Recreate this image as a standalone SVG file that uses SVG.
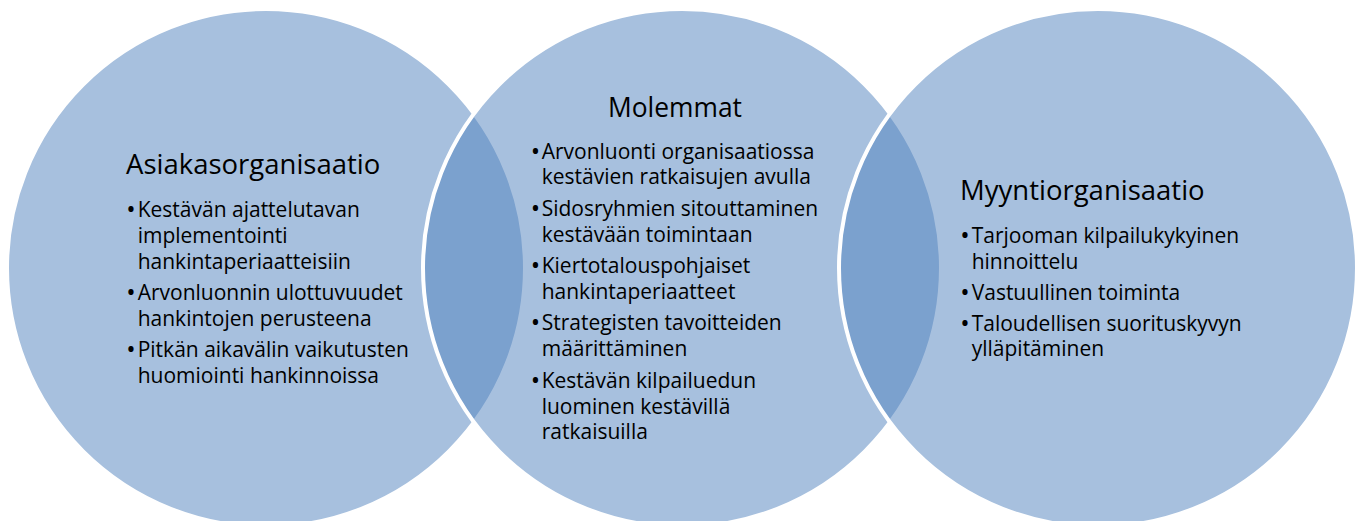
<svg xmlns="http://www.w3.org/2000/svg" width="1360" height="521" viewBox="0 0 1360 521">
  <style>
    .circle { fill: #4F81BD; fill-opacity: 0.5; stroke: #FFFFFF; stroke-width: 4; }
    text { font-family: "Open Sans", "Liberation Sans", sans-serif; fill: #000000; }
    .title { font-size: 27.5px; }
    .item { font-size: 21px; }
    .bullet { font-size: 25px; }
  </style>
  <rect width="1360" height="521" fill="#FFFFFF"/>

  <!-- Customer organisation -->
  <g id="asiakasorganisaatio">
    <circle class="circle" cx="266" cy="268" r="259"/>
    <text class="title" x="126" y="174">Asiakasorganisaatio</text>
    <text class="item" y="217"><tspan class="bullet" x="126.3" dy="1">•</tspan><tspan x="137.7" dy="-1">Kestävän ajattelutavan</tspan></text>
    <text class="item" x="137.7" y="243">implementointi</text>
    <text class="item" x="137.7" y="268.7">hankintaperiaatteisiin</text>
    <text class="item" y="300"><tspan class="bullet" x="126.3" dy="1">•</tspan><tspan x="137.7" dy="-1">Arvonluonnin ulottuvuudet</tspan></text>
    <text class="item" x="137.7" y="325.7">hankintojen perusteena</text>
    <text class="item" y="356.8"><tspan class="bullet" x="126.3" dy="1">•</tspan><tspan x="137.7" dy="-1">Pitkän aikavälin vaikutusten</tspan></text>
    <text class="item" x="137.7" y="382.7">huomiointi hankinnoissa</text>
  </g>

  <!-- Shared -->
  <g id="molemmat">
    <circle class="circle" cx="682" cy="268" r="259"/>
    <text class="title" x="608" y="116.7" textLength="134" lengthAdjust="spacingAndGlyphs">Molemmat</text>
    <text class="item" y="158.5"><tspan class="bullet" x="530.8" dy="1">•</tspan><tspan x="541.7" dy="-1">Arvonluonti organisaatiossa</tspan></text>
    <text class="item" x="541.7" y="184.4">kestävien ratkaisujen avulla</text>
    <text class="item" y="215.8"><tspan class="bullet" x="530.8" dy="1">•</tspan><tspan x="541.7" dy="-1">Sidosryhmien sitouttaminen</tspan></text>
    <text class="item" x="541.7" y="241.7">kestävään toimintaan</text>
    <text class="item" y="273"><tspan class="bullet" x="530.8" dy="1">•</tspan><tspan x="541.7" dy="-1">Kiertotalouspohjaiset</tspan></text>
    <text class="item" x="541.7" y="298.9">hankintaperiaatteet</text>
    <text class="item" y="330.3"><tspan class="bullet" x="530.8" dy="1">•</tspan><tspan x="541.7" dy="-1">Strategisten tavoitteiden</tspan></text>
    <text class="item" x="541.7" y="356.2">määrittäminen</text>
    <text class="item" y="387.6"><tspan class="bullet" x="530.8" dy="1">•</tspan><tspan x="541.7" dy="-1">Kestävän kilpailuedun</tspan></text>
    <text class="item" x="541.7" y="413.5">luominen kestävillä</text>
    <text class="item" x="541.7" y="439.4">ratkaisuilla</text>
  </g>

  <!-- Sales organisation -->
  <g id="myyntiorganisaatio">
    <circle class="circle" cx="1098" cy="268" r="259"/>
    <text class="title" x="960" y="200">Myyntiorganisaatio</text>
    <text class="item" y="242.7"><tspan class="bullet" x="960.3" dy="1">•</tspan><tspan x="971.7" dy="-1">Tarjooman kilpailukykyinen</tspan></text>
    <text class="item" x="971.7" y="268.5">hinnoittelu</text>
    <text class="item" y="299.6"><tspan class="bullet" x="960.3" dy="1">•</tspan><tspan x="971.7" dy="-1">Vastuullinen toiminta</tspan></text>
    <text class="item" y="330.5"><tspan class="bullet" x="960.3" dy="1">•</tspan><tspan x="971.7" dy="-1">Taloudellisen suorituskyvyn</tspan></text>
    <text class="item" x="971.7" y="356.4">ylläpitäminen</text>
  </g>
</svg>
